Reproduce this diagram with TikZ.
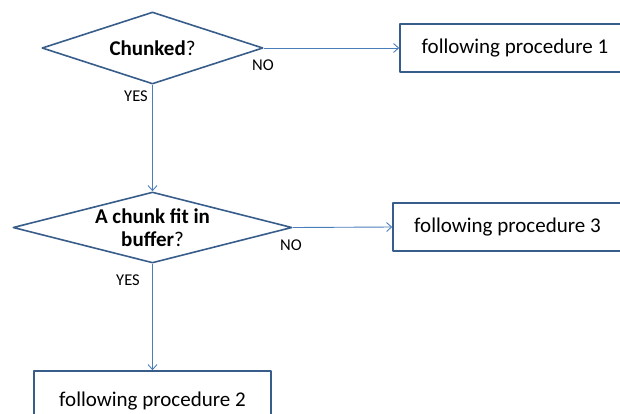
\documentclass[tikz,border=0pt]{standalone}
\usepackage{fontspec}
\setmainfont{Carlito}
\usetikzlibrary{shapes.geometric,arrows.meta}
\definecolor{shapeblue}{HTML}{385D8A}
\definecolor{lineblue}{HTML}{4A7EBB}
\begin{document}
\begin{tikzpicture}[x=1pt, y=-1pt, line join=round,
	dec/.style={diamond, draw=shapeblue, line width=1.6pt, inner sep=0pt},
	proc/.style={rectangle, draw=shapeblue, line width=1.6pt, inner sep=0pt, minimum height=48pt, font=\fontsize{21}{25}\selectfont},
	flow/.style={draw=lineblue, line width=0.9pt, -{Straight Barb[length=5pt,width=9pt]}},
	tag/.style={font=\fontsize{16.5}{18}\selectfont}]
	\useasboundingbox (0,0) rectangle (620,413);
	\node[dec, minimum width=221pt, minimum height=72pt] (chunked) at (152.5,48) {};
	\node[font=\fontsize{21}{25}\selectfont] (chunkedtxt) at (chunked) {\textbf{Chunked}?};
	\node[dec, minimum width=279pt, minimum height=71pt] (fit) at (152.5,227.5) {};
	\node[font=\fontsize{21}{23}\selectfont, align=center] (fittxt) at (fit) {\textbf{A chunk fit in}\\\textbf{buffer}?};
	\node[proc, minimum width=230pt] (proc1) at (515,48) {following procedure 1};
	\node[proc, minimum width=229pt] (proc3) at (507.5,227) {following procedure 3};
	\node[proc, minimum width=237pt, minimum height=60pt] (proc2) at (152.5,401) {following procedure 2};
	\draw[flow] (chunked.east)--(proc1.west);
	\draw[flow] (chunked.south)--(fit.north);
	\draw[flow] (fit.east)--(proc3.west);
	\draw[flow] (fit.south)--(proc2.north);
	\foreach \n/\t/\p in {no1/NO/{(263,65)},yes1/YES/{(136,96)},no2/NO/{(291,245)},yes2/YES/{(128,280)}}
		\node[tag] (\n) at \p {\t};
\end{tikzpicture}
\end{document}
